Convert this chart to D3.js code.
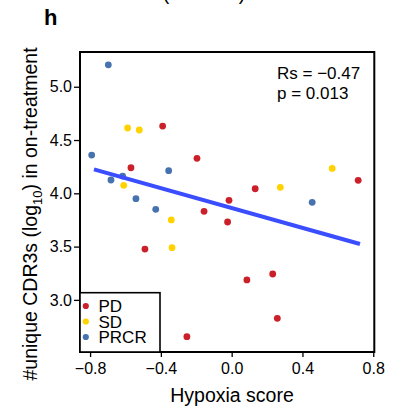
<!DOCTYPE html>
<html>
<head>
<meta charset="utf-8">
<script src="https://cdn.jsdelivr.net/npm/d3@7"></script>
<style>
  html, body { margin: 0; padding: 0; background: #fff; }
  svg { display: block; font-family: "Liberation Sans", Arial, Helvetica, sans-serif; }
</style>
</head>
<body>
<svg id="chart" width="399" height="408"></svg>
<script>
// ---- data ----
const groups = ["PD", "SD", "PRCR"];
const groupColors = ["#CB1F2A", "#FFD200", "#4673B0"];

const pdX = [-0.390, -0.196, -0.569, -0.015, -0.156, -0.023, 0.715, 0.133, -0.490, -0.253, 0.086, 0.232, 0.258];
const pdY = [4.631, 4.328, 4.240, 3.934, 3.831, 3.731, 4.122, 4.043, 3.477, 2.655, 3.187, 3.243, 2.827];

const sdX = [-0.588, -0.522, -0.610, -0.341, 0.568, 0.275, -0.337];
const sdY = [4.613, 4.594, 4.075, 3.750, 4.234, 4.056, 3.490];

const prcrX = [-0.697, -0.791, -0.356, -0.682, -0.616, -0.541, -0.429, 0.455];
const prcrY = [5.206, 4.359, 4.212, 4.125, 4.162, 3.950, 3.850, 3.915];

const fitSlope = -0.466;
const fitIntercept = 3.862;
const fitXRange = [-0.778, 0.725];

const xTicks = [-0.8, -0.4, 0.0, 0.4, 0.8];
const yTicks = [3.0, 3.5, 4.0, 4.5, 5.0];

const statLines = ["Rs = \u22120.47", "p = 0.013"];

// ---- build ----
const svg = d3.select("#chart");
const pLeft = 80, pRight = 374.3, pTop = 52, pBottom = 352;

const x = d3.scaleLinear().domain([-0.857, 0.806]).range([pLeft, pRight]);
const y = d3.scaleLinear().domain([2.511, 5.326]).range([pBottom, pTop]);

const points = [];
[[pdX, pdY], [sdX, sdY], [prcrX, prcrY]].forEach((s, gi) => {
  s[0].forEach((v, i) => points.push({ g: gi, x: v, y: s[1][i] }));
});

const fmt = d => d3.format(".1f")(d).replace("-", "\u2212");

// fragment of the cut-off heading above
svg.append("text").attr("x", 166).attr("y", 0).attr("font-size", 19.5).attr("text-anchor", "middle").text("(");
svg.append("text").attr("x", 242).attr("y", 0).attr("font-size", 19.5).attr("text-anchor", "middle").text(")");

// panel letter
svg.append("text").attr("x", 44).attr("y", 25).attr("font-size", 22).attr("font-weight", "bold").text("h");

// axes
const xAxis = d3.axisBottom(x).tickValues(xTicks).tickFormat(fmt).tickSize(5).tickPadding(6);
const yAxis = d3.axisLeft(y).tickValues(yTicks).tickFormat(fmt).tickSize(6).tickPadding(2);

const gx = svg.append("g").attr("transform", `translate(0,${pBottom})`).call(xAxis);
const gy = svg.append("g").attr("transform", `translate(${pLeft},0)`).call(yAxis);
[gx, gy].forEach(g => {
  g.select(".domain").remove();
  g.selectAll(".tick line").attr("stroke", "#000").attr("stroke-width", 1.3);
  g.selectAll(".tick text").attr("font-size", 16).attr("fill", "#000").attr("font-family", "Liberation Sans, Arial, sans-serif");
});
gx.selectAll(".tick text").attr("dy", "0.71em");

// points
svg.append("g").selectAll("circle").data(points).join("circle")
  .attr("cx", d => x(d.x)).attr("cy", d => y(d.y)).attr("r", 3.4)
  .attr("fill", d => groupColors[d.g]);

// regression line
svg.append("line")
  .attr("x1", x(fitXRange[0])).attr("y1", y(fitIntercept + fitSlope * fitXRange[0]))
  .attr("x2", x(fitXRange[1])).attr("y2", y(fitIntercept + fitSlope * fitXRange[1]))
  .attr("stroke", "#3A4DFF").attr("stroke-width", 4);

// plot box
svg.append("rect").attr("x", pLeft).attr("y", pTop).attr("width", pRight - pLeft).attr("height", pBottom - pTop)
  .attr("fill", "none").attr("stroke", "#000").attr("stroke-width", 2);

// stats text
svg.append("g").selectAll("text").data(statLines).join("text")
  .attr("x", 277).attr("y", (d, i) => 78.5 + i * 20).attr("font-size", 17).text(d => d);

// legend
const lg = svg.append("g");
lg.append("rect").attr("x", pLeft).attr("y", 292.7).attr("width", 80).attr("height", pBottom - 292.7)
  .attr("fill", "#fff").attr("stroke", "#000").attr("stroke-width", 1.6);
groups.forEach((gname, i) => {
  const cy = 306 + i * 15.5;
  lg.append("circle").attr("cx", 85.8).attr("cy", cy).attr("r", 3.1).attr("fill", groupColors[i]);
  lg.append("text").attr("x", 98.5).attr("y", cy + 6).attr("font-size", 17).text(gname);
});

// axis titles
svg.append("text").attr("x", 232).attr("y", 401.5).attr("text-anchor", "middle").attr("font-size", 19.5).text("Hypoxia score");

const yt = svg.append("text").attr("text-anchor", "middle").attr("font-size", 19.5)
  .attr("transform", "translate(37,214) rotate(-90)");
yt.append("tspan").text("#unique CDR3s (log");
yt.append("tspan").attr("font-size", 13).attr("dy", 5).text("10");
yt.append("tspan").attr("dy", -5).text(") in on-treatment");
</script>
</body>
</html>
